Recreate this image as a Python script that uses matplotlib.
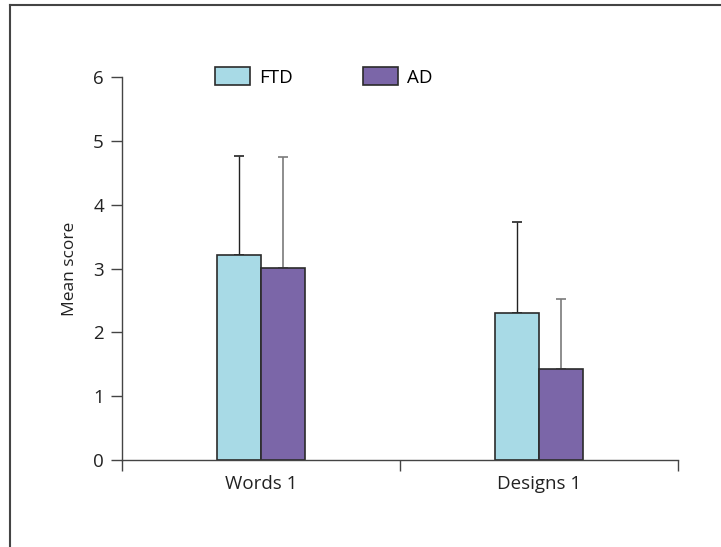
import matplotlib.pyplot as plt
from matplotlib.lines import Line2D
import numpy as np

plt.rcParams['font.family'] = ['Open Sans', 'DejaVu Sans']

categories = ['Words 1', 'Designs 1']
ftd_mean = [3.21, 2.30]
ftd_err = [1.56, 1.43]
ad_mean = [3.01, 1.43]
ad_err = [1.74, 1.09]

ftd_color = '#a8dae6'
ad_color = '#7b66a8'
edge = '#2b2b2b'
axis_col = '#444444'
fs = 13.5

fig = plt.figure(figsize=(7.21, 5.47), dpi=100)
ax = fig.add_axes([122/721, 87/547, 556/721, 383/547])

x = np.arange(len(categories))
w = 0.16
b1 = ax.bar(x - w/2, ftd_mean, w, color=ftd_color, edgecolor=edge, linewidth=1.2, label='FTD', zorder=2)
b2 = ax.bar(x + w/2, ad_mean, w, color=ad_color, edgecolor=edge, linewidth=1.2, label='AD', zorder=2)

ax.errorbar(x - w/2, ftd_mean, yerr=[np.zeros(2), ftd_err], fmt='none', ecolor='#222222',
            elinewidth=1.0, capsize=3.3, capthick=1.2, zorder=1)
ax.errorbar(x + w/2, ad_mean, yerr=[np.zeros(2), ad_err], fmt='none', ecolor='#7a7a7a',
            elinewidth=1.2, capsize=3.3, capthick=1.2, zorder=1)

ax.set_xlim(-0.5, 1.5)
ax.set_ylim(0, 6)
ax.set_yticks(range(7))
ax.set_xticks(x)
ax.set_xticklabels(categories)
ax.set_xticks([-0.5, 0.5, 1.5], minor=True)
ax.tick_params(axis='x', which='major', length=0, pad=11, labelsize=fs, labelcolor='#222222')
ax.tick_params(axis='x', which='minor', length=8, width=1, color=axis_col, direction='out')
ax.tick_params(axis='y', length=8, width=1, color=axis_col, direction='out', pad=5,
               labelsize=fs, labelcolor='#222222')
ax.set_ylabel('Mean score', fontsize=12.5, color='#222222', labelpad=11)

for s in ['top', 'right']:
    ax.spines[s].set_visible(False)
for s in ['left', 'bottom']:
    ax.spines[s].set_color(axis_col)
    ax.spines[s].set_linewidth(1)

fig.legend(handles=[b1, b2], labels=['FTD', 'AD'], loc='center left',
           bbox_to_anchor=(198/721, 1 - 77/547), ncol=2, frameon=False,
           fontsize=fs, handlelength=1.85, handleheight=1.1, handletextpad=0.5,
           columnspacing=3.75)

# partial frame round the figure
fig.add_artist(Line2D([10/721, 10/721], [0, 1 - 5/547], color='#444444', linewidth=1.5))
fig.add_artist(Line2D([10/721, 1], [1 - 5/547, 1 - 5/547], color='#444444', linewidth=1.5))

fig.savefig('out.png', dpi=100, facecolor='white')
